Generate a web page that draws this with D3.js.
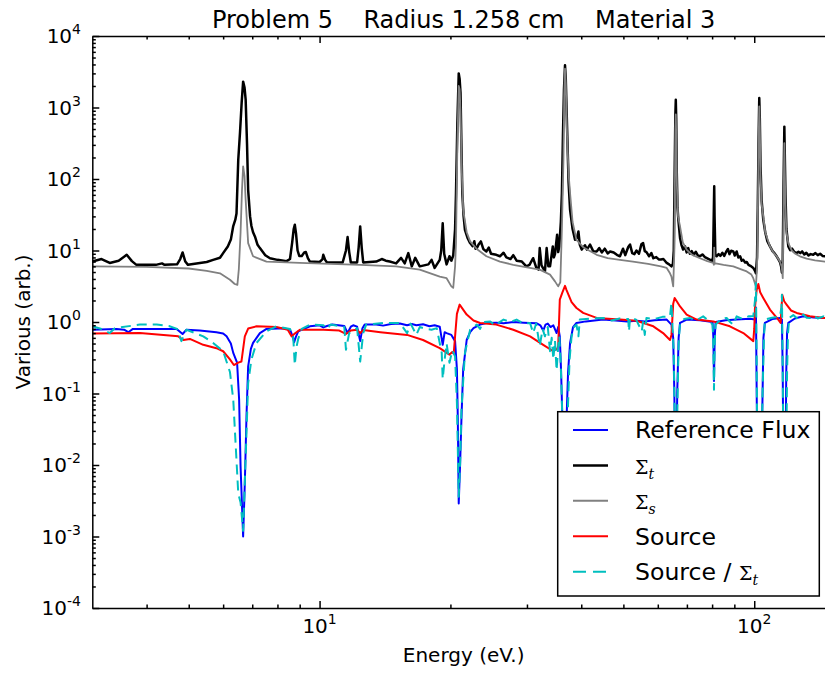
<!DOCTYPE html>
<html lang="en">
<head>
<meta charset="UTF-8">
<title>Problem 5 - Radius 1.258 cm - Material 3</title>
<script src="https://d3js.org/d3.v7.min.js"></script>
<style>
  body { margin: 0; background: #fff; }
  svg { display: block; font-family: "DejaVu Sans", sans-serif; }
  .axis path, .axis line { stroke: #000; stroke-width: 1.5px; }
  .series { fill: none; stroke-linejoin: round; }
</style>
</head>
<body>
<svg id="chart" width="825" height="673"></svg>
<script>
// [energy (eV), value] pairs
const refFlux = [[3.00,0.78],[3.41,0.80],[3.55,0.78],[3.63,0.72],[3.72,0.80],[4.69,0.80],[4.84,0.68],[4.94,0.78],[5.30,0.76],[5.79,0.72],[6.00,0.69],[6.11,0.63],[6.25,0.50],[6.33,0.37],[6.46,0.27],[6.53,0.082],[6.58,0.0096],[6.67,0.0010],[6.73,0.0056],[6.79,0.048],[6.85,0.24],[6.95,0.42],[7.03,0.51],[7.29,0.70],[7.55,0.80],[8.25,0.82],[8.55,0.78],[8.68,0.62],[8.74,0.52],[8.82,0.62],[8.93,0.74],[9.50,0.87],[10.0,0.90],[10.2,0.84],[10.4,0.88],[10.7,0.92],[11.4,0.88],[11.6,0.70],[11.8,0.86],[11.95,0.90],[12.2,0.86],[12.4,0.54],[12.55,0.82],[12.7,0.92],[13.5,0.92],[14.0,0.89],[14.6,0.94],[15.3,0.95],[15.9,0.90],[16.3,0.94],[16.7,0.90],[17.3,0.93],[17.9,0.87],[18.4,0.90],[18.9,0.86],[19.2,0.48],[19.4,0.72],[19.6,0.70],[20.1,0.66],[20.5,0.54],[20.7,0.22],[20.8,0.043],[20.9,0.0029],[21.05,0.01],[21.2,0.043],[21.4,0.22],[21.8,0.56],[22.2,0.72],[22.6,0.82],[23.4,0.92],[24.2,0.97],[25.5,0.98],[26.5,0.96],[27.9,1.0],[29.5,0.98],[30.5,0.97],[31.6,0.96],[32.2,0.90],[32.7,0.76],[33.1,0.92],[33.5,0.95],[34.0,0.85],[34.5,0.90],[35.1,0.70],[35.4,0.85],[35.7,0.63],[35.95,0.2],[36.2,0.043],[36.7,0.001],[37.0,0.043],[37.3,0.2],[37.7,0.51],[38.3,0.85],[39.0,0.97],[41.0,1.02],[44.9,1.08],[48.0,1.05],[51.0,1.02],[53.6,1.04],[56.0,1.02],[59.0,1.06],[62.9,1.08],[64.5,0.92],[65.1,0.6],[65.5,0.1],[66.0,0.001],[66.5,0.1],[67.0,0.6],[67.5,0.97],[69.9,1.08],[75.0,1.06],[80.2,1.0],[80.55,0.6],[80.8,0.15],[81.1,0.6],[81.5,1.0],[86.0,1.06],[91.1,1.08],[97.8,1.11],[100.4,1.08],[100.9,1.6],[101.5,0.03],[102.5,0.001],[104.2,0.03],[105.0,0.6],[105.8,0.97],[110.0,1.1],[114.6,1.14],[115.8,1.08],[116.3,0.2],[116.7,0.01],[117.3,0.001],[118.0,0.01],[118.5,0.2],[119.0,0.7],[119.8,0.97],[124.0,1.12],[129.7,1.2],[137.0,1.16],[144.2,1.14],[153.4,1.14]];

const sigmaT = [[3.00,7.0],[3.15,7.6],[3.29,6.7],[3.45,7.2],[3.60,8.7],[3.70,7.1],[3.79,6.3],[4.20,6.3],[4.34,6.6],[4.40,6.3],[4.70,6.4],[4.78,7.6],[4.84,9.4],[4.91,7.0],[4.98,6.3],[5.50,6.9],[5.69,7.4],[5.90,7.9],[6.00,9.2],[6.15,11.4],[6.25,14.2],[6.33,22],[6.40,27],[6.44,33],[6.50,186],[6.56,443],[6.62,1200],[6.67,2300],[6.72,1900],[6.76,1290],[6.81,300],[6.85,70],[6.92,30],[6.97,22],[7.03,18],[7.10,15.7],[7.20,12],[7.29,10.8],[7.50,8.6],[7.69,7.8],[8.00,7.4],[8.40,7.1],[8.55,7.6],[8.65,13],[8.72,20],[8.77,22.9],[8.83,17],[8.90,10],[8.98,8.4],[9.10,8.4],[9.22,9.4],[9.30,9.5],[9.40,7.8],[9.50,7.0],[10.0,6.9],[10.15,7.5],[10.2,8.7],[10.3,7.4],[10.4,6.8],[11.3,6.8],[11.5,10],[11.6,15.4],[11.7,9.5],[11.8,6.8],[12.2,6.8],[12.3,11],[12.4,21.7],[12.5,11],[12.6,6.8],[13.5,7.0],[13.9,7.6],[14.2,7.2],[14.5,7.0],[15.0,6.6],[15.4,7.9],[15.7,6.6],[16.0,9.2],[16.3,6.0],[16.6,7.9],[17.0,6.0],[17.8,6.4],[18.1,7.4],[18.4,5.7],[18.9,7.4],[19.05,10],[19.2,24],[19.35,9],[19.6,6.4],[19.9,8.3],[20.1,7.2],[20.3,8.5],[20.5,20],[20.6,63],[20.75,600],[20.9,3000],[21.0,2500],[21.1,1600],[21.2,300],[21.3,63],[21.45,30],[21.6,19.5],[21.9,15],[22.2,12.7],[22.5,11.5],[22.7,13.5],[22.85,10.6],[23.0,10.8],[23.2,12],[23.5,13.4],[23.8,10.5],[24.2,9.7],[24.5,11],[24.8,9.0],[25.5,8.7],[26.0,8.3],[26.5,9.3],[26.9,8.0],[27.5,7.6],[27.9,8.6],[28.4,7.2],[29.2,7.0],[29.9,6.0],[30.4,6.3],[31.0,7.8],[31.5,5.8],[31.9,5.4],[32.1,10.8],[32.4,6.2],[33.0,5.1],[33.3,10.8],[33.6,6.0],[33.9,6.0],[34.4,11.4],[34.6,8.0],[34.8,8.9],[35.2,16.6],[35.4,9.5],[35.6,11.4],[35.9,25],[36.1,63],[36.3,400],[36.5,1800],[36.7,3900],[36.85,2500],[37.1,540],[37.4,90],[37.7,37],[38.2,20],[38.7,14.1],[39.1,15],[39.4,18.5],[39.7,12],[40.1,10.3],[40.8,11.8],[41.2,10.3],[41.9,12.1],[42.6,9.8],[43.4,9.7],[44.0,10.8],[44.6,9.4],[45.3,10.6],[46.0,9.1],[46.6,9.7],[47.5,9.4],[48.3,8.7],[49.1,8.3],[49.9,10.6],[50.5,8.6],[51.3,11.2],[51.8,12.1],[52.4,9.2],[53.0,8.9],[53.6,10.0],[54.3,9.0],[55.0,12.2],[55.5,12.7],[56.0,9.8],[56.5,9.5],[57.3,8.3],[58.0,9.2],[58.6,7.8],[59.5,8.1],[60.3,7.5],[61.0,7.5],[61.8,7.6],[62.9,6.7],[63.7,6.4],[64.5,6.0],[65.0,6.5],[65.3,10],[65.6,120],[65.85,800],[66.0,1280],[66.15,700],[66.35,120],[66.6,40],[66.9,27],[67.5,15],[68.0,12],[68.6,10.3],[69.3,11.4],[69.9,9.4],[70.5,10.8],[71.1,9.0],[71.8,9.8],[72.6,8.7],[73.4,9.6],[74.2,8.5],[75.0,8.3],[76.0,8.8],[77.0,8.1],[78.2,7.7],[79.2,7.4],[79.8,7.0],[80.4,8.0],[80.75,40],[80.9,79],[81.05,30],[81.4,8.5],[81.9,8.3],[82.8,8.9],[83.6,8.4],[84.5,9.3],[85.3,8.4],[86.2,9.6],[87.0,10.5],[87.7,8.9],[88.5,9.9],[89.5,9.7],[90.2,8.5],[91.1,9.7],[91.9,8.0],[92.8,8.3],[93.6,7.2],[94.4,7.4],[95.3,6.8],[96.1,6.9],[97.0,6.3],[98.0,6.1],[99.5,5.7],[100.4,5.2],[100.9,4.8],[101.5,8],[101.9,40],[102.3,300],[102.7,1360],[103.0,700],[103.4,150],[104.0,50],[104.9,27],[106.0,18],[107.2,13.5],[108.7,11.4],[110.2,9.8],[111.3,9.2],[112.6,8.3],[113.6,7.6],[114.6,6.9],[115.3,6.0],[115.8,4.9],[116.3,7.5],[116.8,80],[117.3,540],[117.6,200],[118.0,60],[118.6,20],[119.8,11.4],[121.0,10.1],[122.2,10.6],[123.5,9.6],[125.2,9.2],[126.4,9.6],[127.6,9.2],[128.9,9.7],[130.4,8.8],[131.8,9.3],[133.3,8.5],[134.8,8.9],[136.7,8.7],[138.3,9.2],[140.0,8.6],[141.8,9.0],[143.6,8.4],[145.5,8.3],[147.5,8.6],[149.6,8.2],[151.5,8.4],[153.4,8.2]];

const sigmaS = [[3.00,6.0],[4.00,5.9],[5.00,5.6],[5.50,5.2],[5.90,4.8],[6.22,3.9],[6.38,3.4],[6.47,3.3],[6.52,5.5],[6.58,17.7],[6.63,70],[6.67,150],[6.72,110],[6.76,51],[6.85,12.7],[7.03,8.3],[7.55,7.0],[9.0,6.7],[12.4,6.3],[15.0,6.0],[17.0,5.4],[18.9,4.3],[19.6,4.1],[20.1,3.15],[20.3,3.0],[20.5,6],[20.6,12.7],[20.75,300],[20.9,2000],[21.0,1800],[21.1,900],[21.25,120],[21.4,37],[21.8,18],[22.2,13.4],[23.0,10.5],[24.2,8.3],[26.0,7.0],[27.9,6.3],[30.0,5.8],[32.1,5.4],[33.9,4.6],[34.8,3.7],[35.4,3.15],[35.8,3.6],[36.1,20],[36.4,186],[36.55,1500],[36.7,3500],[36.85,2200],[37.1,400],[37.4,120],[37.7,63],[38.2,25],[39.0,14.1],[40.5,11],[43.4,8.7],[46.0,7.8],[49.1,7.4],[52.6,7.0],[57.0,6.5],[61.0,6.0],[62.9,5.7],[64.0,4.8],[64.5,4.3],[65.1,3.15],[65.5,10],[65.85,500],[66.0,800],[66.15,400],[66.4,80],[66.8,30],[67.5,21.7],[68.5,13],[69.9,10.3],[72.0,8.7],[75.0,7.8],[78.0,7.1],[80.5,6.7],[80.75,6.3],[80.9,11],[81.05,6.5],[81.5,6.6],[85.0,6.3],[89.5,6.0],[93.0,5.5],[96.1,5.1],[98.5,4.6],[99.5,4.1],[100.9,3.15],[101.5,6],[101.9,25],[102.3,250],[102.7,1040],[103.0,550],[103.4,110],[104.0,45],[104.9,30],[106.0,18],[108.7,11.4],[110.5,9.5],[112.6,8.3],[114.6,7.0],[115.6,6.0],[116.0,5.0],[116.3,4.1],[116.8,40],[117.3,316],[117.6,120],[118.0,40],[118.6,18],[119.8,12.7],[122.0,10],[124.0,9.1],[127.4,8.3],[132.0,7.7],[138.0,7.3],[145.5,7.0],[153.4,6.8]];

const source = [[3.00,0.69],[3.86,0.70],[4.73,0.63],[4.86,0.56],[5.03,0.58],[5.40,0.48],[5.79,0.43],[6.00,0.39],[6.22,0.30],[6.35,0.25],[6.50,0.27],[6.61,0.28],[6.73,0.63],[6.85,0.81],[7.16,0.87],[7.96,0.85],[8.45,0.78],[8.62,0.63],[8.80,0.70],[9.01,0.78],[10.2,0.78],[11.1,0.76],[11.5,0.68],[11.8,0.76],[12.2,0.78],[12.4,0.70],[12.6,0.77],[13.8,0.72],[15.9,0.66],[17.3,0.56],[18.9,0.43],[19.9,0.35],[20.2,0.38],[20.35,0.36],[20.5,0.63],[20.7,1.3],[21.0,1.75],[21.8,1.27],[22.6,1.05],[23.4,0.97],[25.5,0.92],[27.9,0.78],[30.5,0.63],[32.7,0.48],[34.5,0.39],[35.2,0.42],[35.4,0.46],[35.7,2.05],[36.2,2.6],[36.7,3.2],[37.0,2.8],[38.0,1.9],[39.0,1.57],[40.4,1.34],[43.4,1.14],[49.1,1.08],[53.6,1.04],[58.6,0.87],[61.7,0.70],[64.0,0.56],[64.5,0.66],[65.1,1.8],[65.6,2.17],[66.5,1.9],[67.5,1.65],[69.9,1.27],[73.7,1.08],[80.5,1.02],[87.9,0.87],[94.4,0.70],[99.5,0.54],[100.0,0.8],[100.4,1.6],[101.3,2.8],[102.2,3.4],[103.2,2.6],[104.9,2.17],[108.7,1.49],[113.6,1.08],[115.0,0.97],[115.6,1.6],[116.0,2.4],[117.2,1.95],[118.8,1.74],[121.5,1.45],[125.2,1.34],[134.3,1.2],[144.2,1.14],[153.4,1.12]];

const sourceOverSigmaT = [[3.00,0.87],[3.15,0.80],[3.29,0.70],[3.38,0.82],[3.86,0.92],[4.22,0.92],[4.50,0.88],[4.70,0.80],[4.81,0.54],[4.94,0.78],[5.40,0.63],[5.69,0.51],[6.00,0.39],[6.22,0.20],[6.33,0.082],[6.50,0.004],[6.58,0.003],[6.67,0.0012],[6.79,0.028],[6.85,0.14],[6.97,0.30],[7.16,0.51],[7.55,0.74],[7.96,0.87],[8.55,0.80],[8.70,0.60],[8.77,0.25],[8.85,0.45],[8.93,0.58],[9.10,0.80],[9.50,0.92],[10.2,0.90],[10.4,0.80],[10.6,0.92],[11.4,0.85],[11.5,0.41],[11.7,0.70],[12.2,0.82],[12.4,0.28],[12.6,0.70],[12.8,0.92],[14.0,0.97],[15.3,0.97],[15.9,0.70],[16.2,0.95],[16.7,0.66],[17.0,0.85],[17.6,0.80],[18.1,0.78],[18.6,0.82],[19.1,0.37],[19.2,0.16],[19.4,0.30],[19.6,0.50],[19.9,0.27],[20.2,0.40],[20.5,0.33],[20.7,0.074],[20.9,0.0036],[21.05,0.01],[21.2,0.059],[21.6,0.37],[22.2,0.78],[23.0,0.92],[23.4,0.80],[23.8,1.0],[24.7,1.02],[25.3,0.90],[26.5,1.08],[27.5,1.0],[28.4,1.08],[29.5,0.95],[30.5,0.97],[31.0,0.70],[31.5,0.95],[32.1,0.46],[32.6,0.80],[33.0,0.63],[33.5,0.85],[33.9,0.39],[34.2,0.60],[34.5,0.30],[34.8,0.55],[35.1,0.21],[35.4,0.45],[35.6,0.63],[35.85,0.3],[36.1,0.074],[36.7,0.0015],[37.3,0.074],[37.6,0.3],[38.0,0.63],[38.5,0.85],[39.0,0.92],[39.4,0.63],[39.7,1.08],[42.0,1.12],[44.9,1.14],[47.0,1.05],[49.0,1.12],[51.3,1.1],[51.5,0.74],[51.8,1.14],[53.5,1.08],[55.1,0.74],[55.5,1.0],[56.0,0.66],[56.5,1.14],[59.0,1.1],[61.5,1.18],[64.0,1.2],[64.5,1.85],[64.9,0.8],[65.3,0.37],[65.6,0.05],[66.0,0.001],[66.5,0.05],[67.0,0.5],[67.5,0.97],[69.0,1.1],[71.1,1.14],[73.5,1.05],[76.3,1.2],[78.5,1.05],[80.2,0.92],[80.5,0.5],[80.8,0.113],[81.1,0.5],[81.5,0.92],[84.0,1.1],[86.4,1.14],[88.0,1.0],[89.5,0.92],[91.1,1.2],[94.0,1.1],[97.0,1.2],[99.5,1.2],[100.4,2.0],[100.9,3.5],[101.3,0.3],[101.8,0.005],[102.7,0.001],[103.6,0.005],[104.5,0.1],[105.3,0.6],[105.8,1.08],[110.0,1.15],[114.6,1.2],[115.5,1.6],[115.8,2.4],[116.3,0.2],[116.8,0.005],[117.5,0.001],[118.3,0.005],[119.0,0.2],[119.6,0.7],[120.4,1.14],[123.0,1.25],[126.0,1.1],[129.7,1.27],[132.0,1.15],[134.3,1.14],[137.0,1.25],[140.0,1.12],[144.2,1.2],[148.0,1.1],[153.4,1.2]];

const xDomain = [3, 153.4];
const yDomain = [1e-4, 1e4];
const xMajor = [10, 100];
const xMinor = [4, 5, 6, 7, 8, 9, 20, 30, 40, 50, 60, 70, 80, 90];
const yExponents = [-4, -3, -2, -1, 0, 1, 2, 3, 4];
const yMinorMult = [2, 3, 4, 5, 6, 7, 8, 9];

const titleText = "Problem 5    Radius 1.258 cm    Material 3";

const plotLeft = 92.3, plotRight = 835, plotTop = 36, plotBottom = 608;

const svg = d3.select("#chart");
const x = d3.scaleLog().domain(xDomain).range([plotLeft, plotRight]);
const y = d3.scaleLog().domain(yDomain).range([plotBottom, plotTop]);

const yMajor = yExponents.map(e => Math.pow(10, e));
const yMinor = [];
yExponents.slice(0, -1).forEach(e => yMinorMult.forEach(m => yMinor.push(m * Math.pow(10, e))));

svg.append("defs").append("clipPath").attr("id", "plotClip")
  .append("rect").attr("x", plotLeft).attr("y", plotTop)
  .attr("width", plotRight - plotLeft).attr("height", plotBottom - plotTop);

// series
const line = d3.line().x(d => x(d[0])).y(d => y(d[1]));
const series = [
  { data: refFlux, color: "#0000ff", width: 2, dash: null, label: "Reference Flux" },
  { data: sigmaT, color: "#000000", width: 2.5, dash: null, label: "Σ", sub: "t" },
  { data: sigmaS, color: "#808080", width: 1.8, dash: null, label: "Σ", sub: "s" },
  { data: source, color: "#ff0000", width: 2, dash: null, label: "Source" },
  { data: sourceOverSigmaT, color: "#00bfbf", width: 2, dash: "10,6", label: "Source / Σ", sub: "t" }
];

const plot = svg.append("g").attr("clip-path", "url(#plotClip)");
series.forEach(s => {
  plot.append("path").datum(s.data)
    .attr("class", "series")
    .attr("d", line)
    .attr("stroke", s.color)
    .attr("stroke-width", s.width)
    .attr("stroke-dasharray", s.dash);
});

// axes with inward ticks
function axisGroup(gen, tx, ty) {
  const g = svg.append("g").attr("class", "axis").attr("transform", `translate(${tx},${ty})`).call(gen);
  g.selectAll("text").remove();
  return g;
}
axisGroup(d3.axisBottom(x).tickValues(xMajor).tickSize(-7).tickSizeOuter(0), 0, plotBottom);
axisGroup(d3.axisBottom(x).tickValues(xMinor).tickSize(-3.5).tickSizeOuter(0), 0, plotBottom).select(".domain").remove();
axisGroup(d3.axisTop(x).tickValues(xMajor).tickSize(-7).tickSizeOuter(0), 0, plotTop);
axisGroup(d3.axisTop(x).tickValues(xMinor).tickSize(-3.5).tickSizeOuter(0), 0, plotTop).select(".domain").remove();
axisGroup(d3.axisLeft(y).tickValues(yMajor).tickSize(-7).tickSizeOuter(0), plotLeft, 0);
axisGroup(d3.axisLeft(y).tickValues(yMinor).tickSize(-3.5).tickSizeOuter(0), plotLeft, 0).select(".domain").remove();

// tick labels with superscripts
function powerLabel(sel, exp) {
  sel.append("tspan").text("10");
  sel.append("tspan").attr("dy", -9).attr("font-size", 14).text(String(exp));
}
yExponents.forEach(e => {
  const t = svg.append("text").attr("x", 81).attr("y", y(Math.pow(10, e)) + 7)
    .attr("text-anchor", "end").attr("font-size", 20);
  powerLabel(t, e);
});
xMajor.forEach(v => {
  const t = svg.append("text").attr("x", x(v)).attr("y", 633)
    .attr("text-anchor", "middle").attr("font-size", 20);
  powerLabel(t, Math.round(Math.log10(v)));
});

// titles
svg.append("text").attr("x", (plotLeft + plotRight) / 2).attr("y", 28)
  .attr("text-anchor", "middle").attr("font-size", 24)
  .attr("xml:space", "preserve").style("white-space", "pre").text(titleText);
svg.append("text").attr("x", (plotLeft + plotRight) / 2).attr("y", 662)
  .attr("text-anchor", "middle").attr("font-size", 20).text("Energy (eV.)");
svg.append("text").attr("transform", `translate(30,${(plotTop + plotBottom) / 2}) rotate(-90)`)
  .attr("text-anchor", "middle").attr("font-size", 20).text("Various (arb.)");

// legend
const lg = svg.append("g").attr("transform", "translate(557.7,411.7)");
lg.append("rect").attr("width", 261.6).attr("height", 184.3)
  .attr("fill", "#fff").attr("stroke", "#000").attr("stroke-width", 1.5);
const rowY = d3.scaleLinear().domain([0, 4]).range([18.3, 160]);
series.forEach((s, i) => {
  const yy = rowY(i);
  lg.append("line").attr("x1", 15.3).attr("x2", 50.3).attr("y1", yy).attr("y2", yy)
    .attr("stroke", s.color).attr("stroke-width", s.width === 2.5 ? 2.5 : 2)
    .attr("stroke-dasharray", s.dash ? "13,7" : null);
  const t = lg.append("text").attr("x", 77.3).attr("y", yy + 8.5).attr("font-size", 23.6)
    .attr("xml:space", "preserve").style("white-space", "pre");
  if (s.sub) {
    const pre = s.label.slice(0, -1);
    if (pre) t.append("tspan").text(pre);
    t.append("tspan").attr("font-family", "DejaVu Serif").attr("font-size", 19).text("Σ");
    t.append("tspan").attr("font-family", "DejaVu Serif").attr("font-style", "italic")
      .attr("font-size", 14).attr("dy", 5).text(s.sub);
  } else {
    t.text(s.label);
  }
});
</script>
</body>
</html>
